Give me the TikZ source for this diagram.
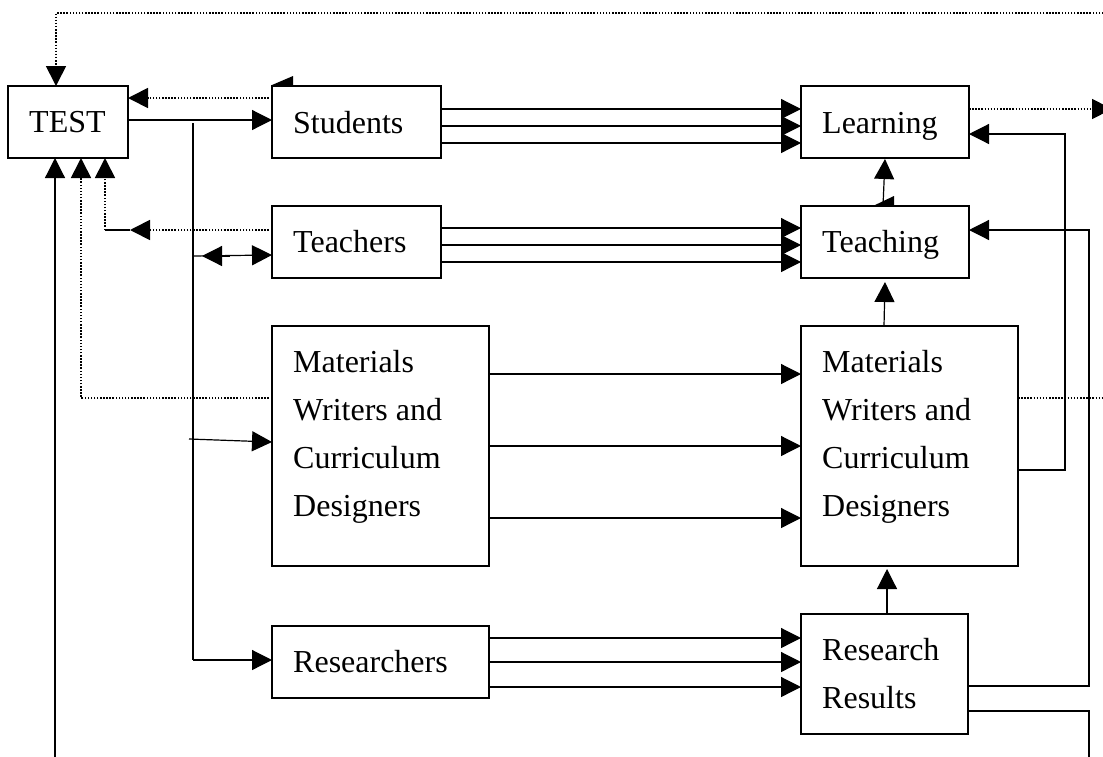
\documentclass[tikz,border=0pt]{standalone}
\usepackage{fontspec}
\setmainfont{Liberation Serif}
\usetikzlibrary{arrows.meta}
\begin{document}
\begin{tikzpicture}[x=1pt,y=-1pt,
  box/.style={draw,line width=1.3pt,inner sep=0pt,outer sep=0pt,anchor=north west},
  lbl/.style={anchor=base west,inner sep=0pt,font=\fontsize{32}{48}\selectfont},
  con/.style={line width=1.2pt},
  arr/.style={con,-{Triangle[length=20pt,width=20pt]}},
  dot/.style={line width=1.7pt,dash pattern=on 1.5pt off 1.6pt},
  darr/.style={dot,-{Triangle[length=20pt,width=20pt]}}]
\useasboundingbox (0,0) rectangle (1103,756);
\clip (0,0) rectangle (1103,756);
% boxes
\node[box,minimum width=120,minimum height=72] (tst) at (8,86) {};
\node[box,minimum width=169,minimum height=72] (stu) at (272,86) {};
\node[box,minimum width=169,minimum height=72] (tea) at (272,206) {};
\node[box,minimum width=217,minimum height=240] (matl) at (272,326) {};
\node[box,minimum width=217,minimum height=72] (res) at (272,626) {};
\node[box,minimum width=168,minimum height=72] (lrn) at (801,86) {};
\node[box,minimum width=168,minimum height=72] (tch) at (801,206) {};
\node[box,minimum width=217,minimum height=240] (matr) at (801,326) {};
\node[box,minimum width=167,minimum height=120] (rr) at (801,614) {};
% labels
\node[lbl] (tstT) at (29,132) {TEST};
\node[lbl] (stuT) at (293,133) {Students};
\node[lbl] (teaT) at (293,252) {Teachers};
\node[lbl] (matlT) at (293,372) {\begin{tabular}[t]{@{}l@{}}Materials\\Writers and\\Curriculum\\Designers\end{tabular}};
\node[lbl] (resT) at (293,672) {Researchers};
\node[lbl] (lrnT) at (822,133) {Learning};
\node[lbl] (tchT) at (822,252) {Teaching};
\node[lbl] (matrT) at (822,372) {\begin{tabular}[t]{@{}l@{}}Materials\\Writers and\\Curriculum\\Designers\end{tabular}};
\node[lbl] (rrT) at (822,660) {\begin{tabular}[t]{@{}l@{}}Research\\Results\end{tabular}};
% coordinates
\coordinate (bus1) at (193,123);
\coordinate (bus2) at (193,660);
\coordinate (farR) at (1125,13);
\coordinate (farL) at (1112,109);
\coordinate (farM) at (1125,398);
% TEST <-> Students
\draw[arr] (tst.east |- 0,120) -- (stu.west |- 0,120);
\draw[darr] (stu.west |- 0,98) -- (tst.east |- 0,98);
\fill (272,85) -- (293,76) -- (293,85) -- cycle;
% bus
\draw[con] (bus1) -- (bus2);
\draw[arr] (193,256) -- (tea.west |- 0,255);
\draw[arr] (230,256) -- (202,256);
\draw[arr] (189,439) -- (matl.west |- 0,442);
\draw[arr] (bus2) -- (res.west |- 0,660);
% feedback to TEST
\draw[darr] (tea.west |- 0,230) -- (130,230);
\draw[con] (130,230) -- (105,230);
\draw[darr] (105,230) -- (tst.south -| 105,0) ;
\draw[darr] (matl.west |- 0,398) -- (81,398) -- (tst.south -| 81,0);
\draw[arr] (rr.east |- 0,711) -- (1089,711) -- (1089,790) -- (55,790) -- (tst.south -| 55,0);
\draw[darr] (farR) -- (56,13) -- (tst.north -| 56,0);
% Students -> Learning
\draw[arr] (stu.east |- 0,109) -- (lrn.west |- 0,109);
\draw[arr] (stu.east |- 0,126) -- (lrn.west |- 0,126);
\draw[arr] (stu.east |- 0,143) -- (lrn.west |- 0,143);
% Teachers -> Teaching
\draw[arr] (tea.east |- 0,228) -- (tch.west |- 0,228);
\draw[arr] (tea.east |- 0,245) -- (tch.west |- 0,245);
\draw[arr] (tea.east |- 0,262) -- (tch.west |- 0,262);
% Materials -> Materials
\draw[arr] (matl.east |- 0,374) -- (matr.west |- 0,374);
\draw[arr] (matl.east |- 0,446) -- (matr.west |- 0,446);
\draw[arr] (matl.east |- 0,518) -- (matr.west |- 0,518);
% Researchers -> Research Results
\draw[arr] (res.east |- 0,638) -- (rr.west |- 0,638);
\draw[arr] (res.east |- 0,662) -- (rr.west |- 0,662);
\draw[arr] (res.east |- 0,687) -- (rr.west |- 0,687);
% vertical arrows on right column
\draw[arr] (883,206) -- (885,159);
\fill (873,206) -- (894,196) -- (894,206) -- cycle;
\draw[arr] (matr.north -| 884,0) -- (885,282);
\draw[arr] (rr.north -| 887,0) -- (887,569);
% right side loops
\draw[darr] (lrn.east |- 0,109) -- (farL);
\draw[arr] (matr.east |- 0,470) -- (1065,470) -- (1065,134) -- (lrn.east |- 0,134);
\draw[arr] (rr.east |- 0,686) -- (1089,686) -- (1089,230) -- (tch.east |- 0,230);
\draw[dot] (matr.east |- 0,398) -- (farM);
\end{tikzpicture}
\end{document}
